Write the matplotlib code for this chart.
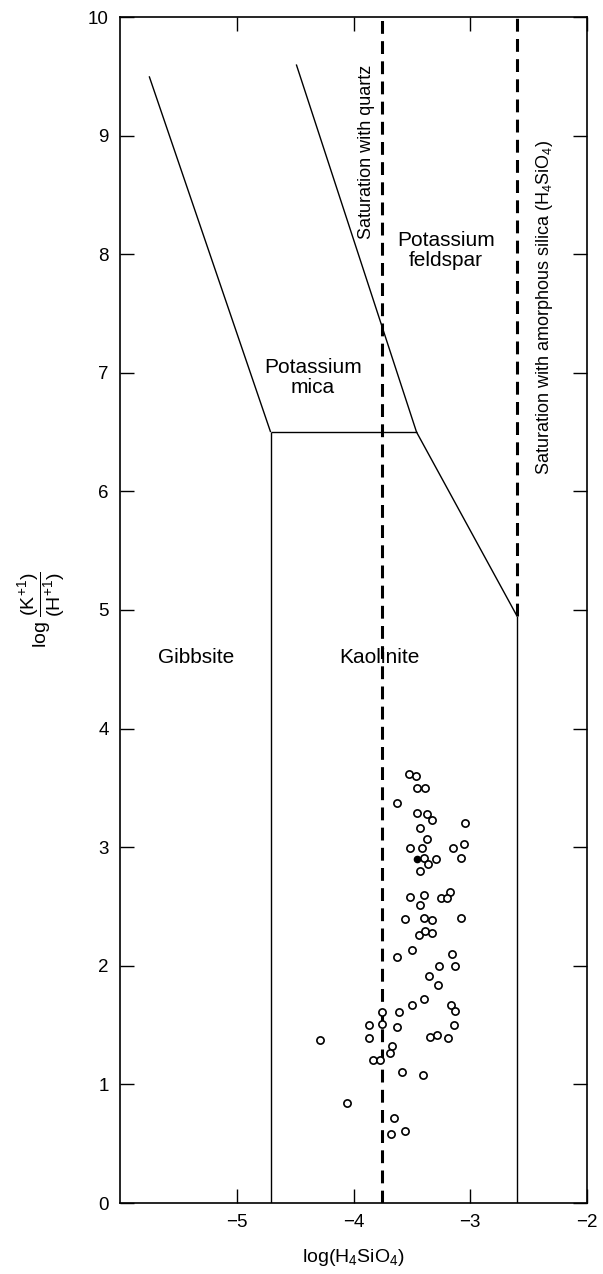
import matplotlib
matplotlib.use('Agg')
import matplotlib.pyplot as plt

plt.rcParams['font.family'] = ['Liberation Sans', 'DejaVu Sans']
plt.rcParams['mathtext.fontset'] = 'custom'
plt.rcParams['mathtext.rm'] = 'Liberation Sans'
plt.rcParams['mathtext.it'] = 'Liberation Sans:italic'
plt.rcParams['mathtext.bf'] = 'Liberation Sans:bold'

# ---------------- data ----------------
sample_x = [-3.525, -3.465, -3.454, -3.388, -3.627, -3.454, -3.368, -3.330, -3.045,
            -3.430, -3.368, -3.519, -3.417, -3.151, -3.052, -3.394, -3.291, -3.082,
            -3.365, -3.430, -3.173, -3.519, -3.394, -3.253, -3.197, -3.429, -3.562,
            -3.400, -3.326, -3.082, -3.442, -3.391, -3.330, -3.627, -3.496, -3.154,
            -3.265, -3.128, -3.353, -3.279, -3.394, -3.502, -3.168, -3.134, -3.759,
            -3.608, -3.867, -3.759, -3.627, -3.143, -3.871, -3.348, -3.288, -3.189,
            -3.668, -3.687, -3.830, -3.773, -4.287, -3.582, -3.408, -4.058, -3.653,
            -3.681, -3.556]
sample_y = [3.615, 3.600, 3.500, 3.500, 3.373, 3.291, 3.283, 3.232, 3.204,
            3.164, 3.067, 2.993, 2.993, 2.993, 3.024, 2.909, 2.898, 2.909,
            2.856, 2.802, 2.625, 2.578, 2.597, 2.572, 2.572, 2.513, 2.392,
            2.406, 2.386, 2.406, 2.262, 2.291, 2.274, 2.074, 2.131, 2.100,
            2.001, 2.001, 1.914, 1.836, 1.723, 1.667, 1.667, 1.616, 1.608,
            1.613, 1.501, 1.507, 1.481, 1.501, 1.389, 1.400, 1.414, 1.389,
            1.326, 1.267, 1.206, 1.206, 1.374, 1.105, 1.082, 0.843, 0.714,
            0.584, 0.605]
highlight_x = [-3.454]
highlight_y = [2.898]

# phase boundaries (x = log H4SiO4, y = log K+/H+)
gibbsite_kaolinite_x = [-4.71, -4.71]
gibbsite_kaolinite_y = [0.0, 6.5]
gibbsite_mica_x = [-4.71, -5.75]
gibbsite_mica_y = [6.5, 9.5]
kaolinite_mica_x = [-4.71, -3.46]
kaolinite_mica_y = [6.5, 6.5]
mica_feldspar_x = [-3.46, -4.49]
mica_feldspar_y = [6.5, 9.6]
kaolinite_feldspar_x = [-3.46, -2.60]
kaolinite_feldspar_y = [6.5, 4.95]
kaolinite_right_x = [-2.60, -2.60]
kaolinite_right_y = [0.0, 4.95]
quartz_sat_x = [-3.76, -3.76]
quartz_sat_y = [0.0, 10.0]
amorphous_sat_x = [-2.60, -2.60]
amorphous_sat_y = [4.95, 10.0]

x_ticks = [-5, -4, -3, -2]
y_ticks = [0, 1, 2, 3, 4, 5, 6, 7, 8, 9, 10]

# ---------------- figure ----------------
W, H = 603, 1274
fig = plt.figure(figsize=(W / 100, H / 100), dpi=100)
L, R, B, T = 120, 587, 1203, 17
ax = fig.add_axes([L / W, (H - B) / H, (R - L) / W, (B - T) / H])

ax.set_xlim(-6, -2)
ax.set_ylim(0, 10)

lw = 1.0
for xs, ys in [(gibbsite_kaolinite_x, gibbsite_kaolinite_y),
               (gibbsite_mica_x, gibbsite_mica_y),
               (kaolinite_mica_x, kaolinite_mica_y),
               (mica_feldspar_x, mica_feldspar_y),
               (kaolinite_feldspar_x, kaolinite_feldspar_y),
               (kaolinite_right_x, kaolinite_right_y)]:
    ax.plot(xs, ys, color='black', lw=lw, solid_capstyle='butt')

for xs, ys in [(quartz_sat_x, quartz_sat_y), (amorphous_sat_x, amorphous_sat_y)]:
    ax.plot(xs, ys, color='black', lw=2.2, dashes=(4.2, 2.4), dash_capstyle='butt')

ax.plot(sample_x, sample_y, linestyle='none', marker='o', ms=5.2, mew=1.2,
        mfc='white', mec='black', zorder=5)
ax.plot(highlight_x, highlight_y, linestyle='none', marker='o', ms=4.5,
        mfc='black', mec='black', zorder=6)

fs = 15
ax.text(-5.35, 4.6, 'Gibbsite', fontsize=fs, ha='center', va='center')
ax.text(-3.78, 4.6, 'Kaolinite', fontsize=fs, ha='center', va='center')
ax.text(-4.35, 6.96, 'Potassium\nmica', fontsize=fs, ha='center', va='center',
        linespacing=1.1)
ax.text(-3.21, 8.03, 'Potassium\nfeldspar', fontsize=fs, ha='center', va='center',
        linespacing=1.1)
ax.text(-3.887, 8.86, 'Saturation with quartz', fontsize=13, rotation=90,
        ha='center', va='center')
ax.text(-2.36, 7.55, 'Saturation with amorphous silica (H$_4$SiO$_4$)', fontsize=13,
        rotation=90, ha='center', va='center')

ax.set_xticks(x_ticks)
ax.set_yticks(y_ticks)
ax.tick_params(direction='in', length=10, width=1.0, labelsize=13.5,
               top=True, right=True, pad=8)
for s in ax.spines.values():
    s.set_linewidth(1.2)

ax.set_xlabel('log(H$_4$SiO$_4$)', fontsize=14, va='center')
ax.xaxis.set_label_coords(0.5, (B - 1257) / (B - T))
ax.set_ylabel(r'$\log\,\dfrac{(\mathrm{K}^{+1})}{(\mathrm{H}^{+1})}$', fontsize=14, va='center')
ax.yaxis.set_label_coords((42 - L) / (R - L), 0.5)

fig.savefig('out.png', dpi=100)
